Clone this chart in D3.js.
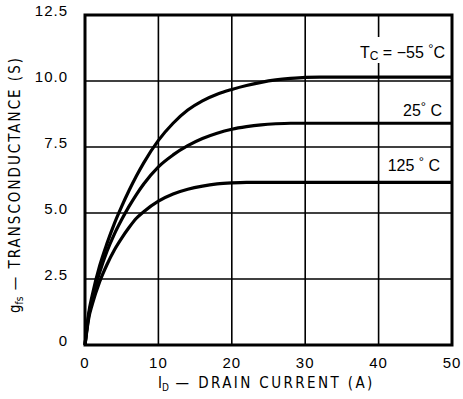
<!DOCTYPE html>
<html>
<head>
<meta charset="utf-8">
<script src="https://cdn.jsdelivr.net/npm/d3@7"></script>
<style>
  body { margin: 0; background: #fff; }
  text { fill: #000; }
</style>
</head>
<body>
<div id="chart"></div>
<script>
// drain current (A) vs transconductance (S)
const currentM55 = [0, 0.5, 1, 2, 3, 4, 5, 6, 7, 8, 10, 12, 14, 16, 18, 20, 22, 24, 26, 28, 30, 32, 50];
const gfsM55 = [0, 1.2, 1.9, 3.0, 3.85, 4.6, 5.25, 5.85, 6.4, 6.9, 7.75, 8.4, 8.9, 9.25, 9.5, 9.68, 9.83, 9.95, 10.04, 10.1, 10.14, 10.15, 10.15];

const current25 = [0, 0.5, 1, 2, 3, 4, 5, 6, 7, 8, 10, 12, 14, 16, 18, 20, 22, 24, 26, 28, 50];
const gfs25 = [0, 1.1, 1.75, 2.75, 3.55, 4.2, 4.75, 5.25, 5.7, 6.1, 6.75, 7.2, 7.55, 7.82, 8.02, 8.17, 8.27, 8.34, 8.38, 8.4, 8.4];

const current125 = [0, 0.5, 1, 2, 3, 4, 5, 6, 7, 8, 10, 12, 14, 16, 18, 20, 22, 50];
const gfs125 = [0, 1.0, 1.55, 2.4, 3.05, 3.6, 4.05, 4.45, 4.8, 5.05, 5.45, 5.72, 5.9, 6.02, 6.1, 6.14, 6.16, 6.16];

const xTicks = [0, 10, 20, 30, 40, 50];
const yTicks = [0, 2.5, 5.0, 7.5, 10.0, 12.5];
const yTickLabels = ["0", "2.5", "5.0", "7.5", "10.0", "12.5"];

const width = 463, height = 399;
const margin = {top: 15, right: 11, bottom: 54, left: 85};
const sans = "'Liberation Sans', Arial, sans-serif";
const cond = "'DejaVu Sans Condensed', 'DejaVu Sans', sans-serif";

const svg = d3.select("#chart").append("svg")
    .attr("width", width)
    .attr("height", height);

const x = d3.scaleLinear().domain([0, 50]).range([margin.left, width - margin.right]);
const y = d3.scaleLinear().domain([0, 12.5]).range([height - margin.bottom, margin.top]);

// grid
svg.append("g")
    .selectAll("line")
    .data(xTicks.slice(1, -1))
    .enter().append("line")
    .attr("x1", d => x(d)).attr("x2", d => x(d))
    .attr("y1", y(12.5)).attr("y2", y(0))
    .attr("stroke", "#000").attr("stroke-width", 1.6);

svg.append("g")
    .selectAll("line")
    .data(yTicks.slice(1, -1))
    .enter().append("line")
    .attr("x1", x(0)).attr("x2", x(50))
    .attr("y1", d => y(d)).attr("y2", d => y(d))
    .attr("stroke", "#000").attr("stroke-width", 1.6);

// tick labels
svg.append("g")
    .selectAll("text")
    .data(xTicks)
    .enter().append("text")
    .attr("x", d => x(d))
    .attr("y", 368)
    .attr("text-anchor", "middle")
    .style("font", `15px ${sans}`)
    .attr("letter-spacing", 1)
    .text(d => d);

svg.append("g")
    .selectAll("text")
    .data(yTicks)
    .enter().append("text")
    .attr("x", 68)
    .attr("y", d => y(d) + 1)
    .attr("text-anchor", "end")
    .style("font", `15px ${sans}`)
    .attr("letter-spacing", 1)
    .text((d, i) => yTickLabels[i]);

// curves
const line = d3.line()
    .x(d => x(d[0]))
    .y(d => y(d[1]))
    .curve(d3.curveMonotoneX);

const series = [
    d3.zip(currentM55, gfsM55),
    d3.zip(current25, gfs25),
    d3.zip(current125, gfs125)
];

svg.append("g")
    .selectAll("path")
    .data(series)
    .enter().append("path")
    .attr("d", line)
    .attr("fill", "none")
    .attr("stroke", "#000")
    .attr("stroke-width", 3.2);

// frame
svg.append("rect")
    .attr("x", x(0)).attr("y", y(12.5))
    .attr("width", x(50) - x(0))
    .attr("height", y(0) - y(12.5))
    .attr("fill", "none")
    .attr("stroke", "#000")
    .attr("stroke-width", 3);

// curve labels
svg.append("rect")
    .attr("x", 349).attr("y", 37)
    .attr("width", 99).attr("height", 26)
    .attr("fill", "#fff");

function label(parts, xPos, yPos) {
    const t = svg.append("text")
        .attr("x", xPos).attr("y", yPos)
        .attr("text-anchor", "end")
        .style("font", `16px ${sans}`);
    parts.forEach(p => {
        const s = t.append("tspan").text(p[0]);
        if (p[1]) s.style("font-size", p[1] + "px");
        if (p[2]) s.attr("dy", p[2]);
    });
}

label([["T"], ["C", 12, 2], [" = −55 ", 0, -2], ["°", 13, -5], ["C", 0, 5]], 445, 58);
label([["25"], ["°", 13, -5], [" C", 0, 5]], 442, 116);
label([["125 "], ["°", 13, -5], [" C", 0, 5]], 440, 171);

// axis titles
const xt = svg.append("text")
    .attr("x", 158).attr("y", 388)
    .style("font", `15px ${cond}`);
xt.append("tspan").text("I");
xt.append("tspan").style("font-size", "10px").attr("dy", 3).text("D");
xt.append("tspan").attr("dy", -3).attr("letter-spacing", 2.4).text(" — DRAIN CURRENT (A)");

const yt = svg.append("text")
    .attr("transform", "translate(20,313) rotate(-90)")
    .style("font", `15px ${cond}`);
yt.append("tspan").text("g");
yt.append("tspan").style("font-size", "10px").attr("dy", 3).text("fs");
yt.append("tspan").attr("dy", -3).attr("letter-spacing", 2).text(" — TRANSCONDUCTANCE (S)");
</script>
</body>
</html>
